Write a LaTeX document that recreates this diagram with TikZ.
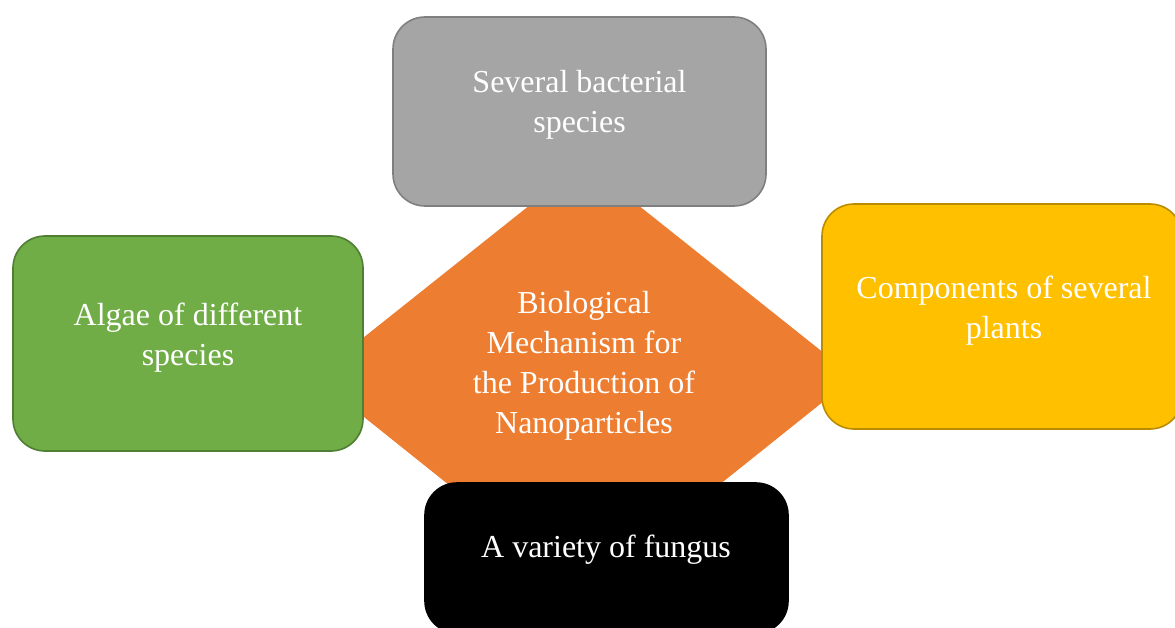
\documentclass[tikz,border=0pt]{standalone}
\usepackage{fontspec}
\setmainfont{Liberation Serif}
\definecolor{cgray}{HTML}{A5A5A5}
\definecolor{cgrayb}{HTML}{7F7F7F}
\definecolor{cgreen}{HTML}{70AD47}
\definecolor{cgreenb}{HTML}{507E32}
\definecolor{cyellow}{HTML}{FFC000}
\definecolor{cyellowb}{HTML}{BC8C00}
\definecolor{corange}{HTML}{ED7D31}
\tikzset{
  card/.style={draw, line width=1.6pt, rounded corners=32pt, inner sep=0pt},
  lbl/.style={text=white, align=center, inner sep=0pt, font=\fontsize{32}{40}\selectfont}
}
\begin{document}
\begin{tikzpicture}[x=1pt,y=-1pt]
\useasboundingbox (0,0) rectangle (1175,628);
\begin{scope}
\clip (0,0) rectangle (1175,628);
\fill[corange] (584,162) -- (854,377) -- (584,593) -- (314,377) -- cycle;
\node[lbl] (center) at (584,366) {Biological\\Mechanism for\\the Production of\\Nanoparticles};
\node[card, fill=cgray, draw=cgrayb, minimum width=373pt, minimum height=189pt] (bact) at (579.5,111.5) {};
\node[lbl] (bacttext) at (579.5,104.5) {Several bacterial\\species};
\node[card, fill=cgreen, draw=cgreenb, minimum width=350pt, minimum height=215pt] (algae) at (188,343.5) {};
\node[lbl] (algaetext) at (188,337.5) {Algae of different\\species};
\node[card, fill=cyellow, draw=cyellowb, minimum width=360pt, minimum height=225pt] (plants) at (1002,316.5) {};
\node[lbl] (plantstext) at (1004,310.5) {Components of several\\plants};
\node[card, fill=black, draw=black, minimum width=363pt, minimum height=150pt] (fungus) at (606.5,558) {};
\node[lbl] (fungustext) at (606,550) {A variety of fungus};
\end{scope}
\end{tikzpicture}
\end{document}
